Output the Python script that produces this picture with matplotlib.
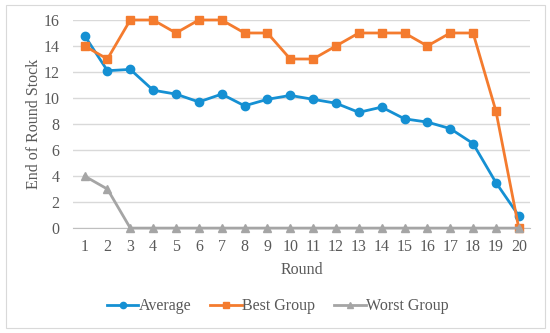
import matplotlib
matplotlib.use("Agg")
import matplotlib.pyplot as plt
from matplotlib.patches import Rectangle
from matplotlib.lines import Line2D

rounds = list(range(1, 21))
average = [14.8, 12.1, 12.2, 10.6, 10.3, 9.7, 10.3, 9.4, 9.9, 10.2,
           9.9, 9.6, 8.9, 9.3, 8.4, 8.15, 7.65, 6.5, 3.5, 0.95]
best = [14, 13, 16, 16, 15, 16, 16, 15, 15, 13,
        13, 14, 15, 15, 15, 14, 15, 15, 9, 0]
worst = [4, 3, 0, 0, 0, 0, 0, 0, 0, 0,
         0, 0, 0, 0, 0, 0, 0, 0, 0, 0]
yticks = [0, 2, 4, 6, 8, 10, 12, 14, 16]
series_names = ['Average', 'Best Group', 'Worst Group']
colors = ['#1590d3', '#f47b2e', '#a5a5a5']
markers = ['o', 's', '^']

plt.rcParams['font.family'] = ['Liberation Serif', 'DejaVu Serif']
txt = '#595959'

fig = plt.figure(figsize=(5.5, 3.33), dpi=100)
fig.patches.append(Rectangle((0.01, 0.015), 0.98, 0.97, transform=fig.transFigure,
                             fill=False, edgecolor='#d9d9d9', linewidth=0.8))
ax = fig.add_axes([0.133, 0.315, 0.831, 0.625])

for i, (vals, name) in enumerate(zip([average, best, worst], series_names)):
    ax.plot(rounds, vals, color=colors[i], lw=2, marker=markers[i], ms=6,
            label=name, zorder=3 + i, clip_on=False)

ax.set_xlim(0.5, 20.5)
ax.set_ylim(0, 16)
ax.set_yticks(yticks)
ax.set_xticks(rounds)
ax.grid(axis='y', color='#d9d9d9', lw=1)
ax.set_axisbelow(True)
for s in ['top', 'right', 'left']:
    ax.spines[s].set_visible(False)
ax.spines['bottom'].set_color('#bfbfbf')
ax.tick_params(length=0, labelsize=11.5, colors=txt, pad=8)
ax.tick_params(axis='y', pad=10)
ax.set_xlabel('Round', fontsize=11.5, color=txt)
ax.xaxis.set_label_coords(0.5, -0.165)
ax.set_ylabel('End of Round Stock', fontsize=11.5, color=txt)
ax.yaxis.set_label_coords(-0.068, 0.5)

handles = [Line2D([], [], color=colors[i], lw=2, marker=markers[i], ms=4.5)
           for i in range(3)]
fig.legend(handles, series_names, loc='center',
           bbox_to_anchor=(0.505, 0.08), ncol=3, frameon=False, fontsize=11.5,
           handlelength=2.0, columnspacing=1.2, handletextpad=0.0,
           labelcolor=txt)

fig.savefig('out.png', dpi=100)
